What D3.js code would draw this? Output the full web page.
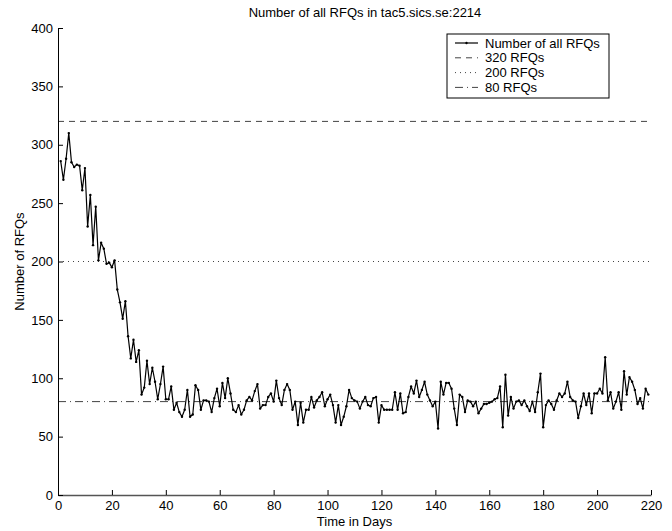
<!DOCTYPE html>
<html>
<head>
<meta charset="utf-8">
<script src="https://cdn.jsdelivr.net/npm/d3@7"></script>
<style>
  body { margin: 0; background: #fff; }
  svg { display: block; font-family: 'Liberation Sans', Arial, sans-serif; }
  .axis text { font-size: 13px; fill: #000; }
</style>
</head>
<body>
<div id="chart"></div>
<script>
// daily number of RFQs, day 1 .. 219
const firstDay = 1;
const rfqs = [
  286, 270, 288, 310, 285, 281, 283, 282, 261, 280,
  230, 257, 214, 247, 201, 216, 211, 198, 199, 195,
  201, 176, 165, 151, 166, 136, 117, 133, 114, 124,
  86, 92, 115, 95, 109, 97, 82, 95, 110, 82,
  82, 93, 73, 79, 71, 67, 73, 90, 67, 69,
  94, 90, 73, 81, 81, 80, 71, 83, 91, 76,
  96, 83, 100, 87, 73, 71, 77, 69, 73, 81,
  84, 81, 89, 95, 74, 77, 77, 84, 87, 80,
  98, 83, 77, 90, 95, 90, 73, 80, 60, 79,
  62, 73, 73, 84, 75, 81, 84, 88, 76, 82,
  86, 77, 62, 77, 60, 67, 76, 90, 83, 81,
  80, 74, 80, 84, 77, 76, 83, 84, 62, 77,
  73, 73, 73, 73, 88, 73, 87, 70, 71, 84,
  93, 87, 98, 84, 90, 97, 86, 81, 76, 80,
  57, 97, 86, 96, 96, 91, 74, 60, 86, 84,
  71, 81, 80, 76, 80, 70, 74, 78, 78, 79,
  80, 82, 83, 93, 58, 103, 68, 84, 74, 80,
  81, 77, 81, 76, 72, 80, 71, 88, 104, 58,
  77, 81, 78, 73, 81, 87, 84, 87, 97, 84,
  81, 80, 66, 76, 87, 77, 87, 70, 87, 87,
  91, 87, 118, 81, 88, 74, 80, 88, 73, 106,
  86, 101, 97, 90, 78, 83, 74, 91, 86
];

const refLevels = [320, 200, 80];
const refLabels = ['320 RFQs', '200 RFQs', '80 RFQs'];
const refDashes = ['6,5', '1,4', '8,4,1,4'];

const xTicks = [0, 20, 40, 60, 80, 100, 120, 140, 160, 180, 200, 220];
const yTicks = [0, 50, 100, 150, 200, 250, 300, 350, 400];

const titleText = 'Number of all RFQs in tac5.sics.se:2214';
const xLabel = 'Time in Days';
const yLabel = 'Number of RFQs';
const seriesLabel = 'Number of all RFQs';

const totalWidth = 672;
const totalHeight = 531;
const margin = { top: 28, right: 21, bottom: 36, left: 58 };
const width = totalWidth - margin.left - margin.right;
const height = totalHeight - margin.top - margin.bottom;

const data = rfqs.map((v, i) => ({ day: firstDay + i, value: v }));

const svg = d3.select('#chart')
  .append('svg')
    .attr('width', totalWidth)
    .attr('height', totalHeight);

const g = svg.append('g')
  .attr('transform', `translate(${margin.left},${margin.top})`);

const x = d3.scaleLinear().domain([0, 220]).range([0, width]);
const y = d3.scaleLinear().domain([0, 400]).range([height, 0]);

// reference lines
refLevels.forEach((lvl, i) => {
  g.append('line')
    .attr('x1', 0)
    .attr('x2', width)
    .attr('y1', y(lvl))
    .attr('y2', y(lvl))
    .attr('stroke', '#444')
    .attr('stroke-width', 1)
    .attr('stroke-dasharray', refDashes[i]);
});

// data line
const line = d3.line()
  .x((d) => x(d.day))
  .y((d) => y(d.value));

g.append('path')
  .datum(data)
  .attr('fill', 'none')
  .attr('stroke', '#000')
  .attr('stroke-width', 1.2)
  .attr('stroke-linejoin', 'round')
  .attr('d', line);

g.selectAll('.pt')
  .data(data)
  .enter()
  .append('circle')
    .attr('class', 'pt')
    .attr('cx', (d) => x(d.day))
    .attr('cy', (d) => y(d.value))
    .attr('r', 1.2)
    .attr('fill', '#000');

// axes (ticks point inward, matlab style)
const xAxis = g.append('g')
  .attr('class', 'axis')
  .attr('transform', `translate(0,${height})`)
  .call(d3.axisBottom(x).tickValues(xTicks).tickSizeInner(-5).tickSizeOuter(0).tickPadding(6));
xAxis.select('.domain').attr('stroke', '#555').attr('stroke-width', 1.6);

const yAxis = g.append('g')
  .attr('class', 'axis')
  .call(d3.axisLeft(y).tickValues(yTicks).tickSizeInner(-5).tickSizeOuter(0).tickPadding(5));
yAxis.select('.domain').attr('stroke', '#000');

// titles
svg.append('text')
  .attr('x', 365)
  .attr('y', 17)
  .attr('text-anchor', 'middle')
  .attr('font-size', 13)
  .text(titleText);

svg.append('text')
  .attr('x', margin.left + width / 2)
  .attr('y', 526)
  .attr('text-anchor', 'middle')
  .attr('font-size', 13)
  .text(xLabel);

svg.append('text')
  .attr('transform', `translate(24,${margin.top + height / 2}) rotate(-90)`)
  .attr('text-anchor', 'middle')
  .attr('font-size', 13)
  .text(yLabel);

// legend
const legend = svg.append('g').attr('transform', 'translate(447,34)');
legend.append('rect')
  .attr('width', 162)
  .attr('height', 64)
  .attr('fill', '#fff')
  .attr('stroke', '#000')
  .attr('stroke-width', 1);

const legendRows = [{ label: seriesLabel, dash: null }]
  .concat(refLabels.map((l, i) => ({ label: l, dash: refDashes[i] })));

legendRows.forEach((row, i) => {
  const cy = 9 + i * 14.8;
  legend.append('line')
    .attr('x1', 8)
    .attr('x2', 31)
    .attr('y1', cy)
    .attr('y2', cy)
    .attr('stroke', row.dash ? '#444' : '#000')
    .attr('stroke-width', row.dash ? 1 : 1.2)
    .attr('stroke-dasharray', row.dash);
  if (!row.dash) {
    legend.append('circle')
      .attr('cx', 19.5)
      .attr('cy', cy)
      .attr('r', 1.2)
      .attr('fill', '#000');
  }
  legend.append('text')
    .attr('x', 38)
    .attr('y', cy + 4.6)
    .attr('font-size', 13)
    .text(row.label);
});
</script>
</body>
</html>
